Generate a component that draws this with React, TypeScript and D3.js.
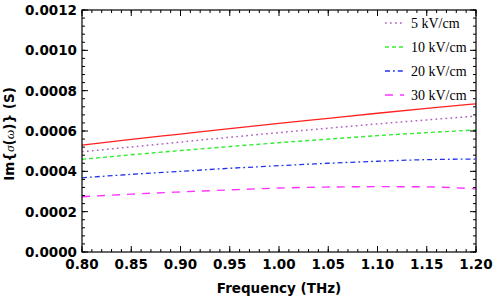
import * as d3 from 'd3';

// Frequency (THz)
const freq = [0.8, 0.85, 0.9, 0.95, 1.0, 1.05, 1.1, 1.15, 1.2];
// Im{sigma} (S) for each curve
const base = [0.00053, 0.000558, 0.000585, 0.000612, 0.000638, 0.000663, 0.000688, 0.000712, 0.000735];
const kv5 = [0.000497, 0.000521, 0.000545, 0.000569, 0.000592, 0.000614, 0.000635, 0.000655, 0.000674];
const kv10 = [0.00046, 0.000482, 0.000503, 0.000523, 0.000542, 0.00056, 0.000577, 0.000592, 0.000605];
const kv20 = [0.000368, 0.000385, 0.0004, 0.000415, 0.000428, 0.00044, 0.00045, 0.000458, 0.000461];
const kv30 = [0.000274, 0.000287, 0.000298, 0.000308, 0.000317, 0.000322, 0.000324, 0.000323, 0.000313];

const xTicks = [0.8, 0.85, 0.9, 0.95, 1.0, 1.05, 1.1, 1.15, 1.2];
const yTicks = [0, 0.0002, 0.0004, 0.0006, 0.0008, 0.001, 0.0012];

const series = [
  { name: '', values: base, color: '#ff2020', dash: '', width: 1.3 },
  { name: '5 kV/cm', values: kv5, color: '#b060c0', dash: '1.7 3.3', width: 1.5 },
  { name: '10 kV/cm', values: kv10, color: '#33ee33', dash: '4 3', width: 1.4 },
  { name: '20 kV/cm', values: kv20, color: '#2233ee', dash: '5 3 1.8 3', width: 1.3 },
  { name: '30 kV/cm', values: kv30, color: '#ff33ff', dash: '8 7', width: 1.4 },
];

export default function App() {
  const width = 495;
  const height = 299;
  const left = 82;
  const right = 476;
  const top = 10;
  const bottom = 252;

  const x = d3.scaleLinear().domain([0.8, 1.2]).range([left, right]);
  const y = d3.scaleLinear().domain([0, 0.0012]).range([bottom, top]);

  const xMinor = d3.range(0, 41).map((i) => 0.8 + i * 0.01);
  const yMinor = d3.range(0, 31).map((i) => i * 0.00004);

  const line = d3
    .line<number>()
    .x((_, i) => x(freq[i]))
    .y((d) => y(d))
    .curve(d3.curveMonotoneX);

  const tickFont = "'DejaVu Sans', sans-serif";

  return (
    <div style={{ position: 'absolute', left: 0, top: 0 }}>
      <svg width={width} height={height} style={{ display: 'block', background: '#fff' }}>
        {/* curves */}
        {series.map((s, i) => (
          <path
            key={i}
            d={line(s.values) || ''}
            fill="none"
            stroke={s.color}
            strokeWidth={s.width}
            strokeDasharray={s.dash || undefined}
          />
        ))}

        {/* frame */}
        <rect x={left} y={top} width={right - left} height={bottom - top} fill="none" stroke="#000" strokeWidth={1.2} />

        {/* minor ticks */}
        {xMinor.map((v, i) => (
          <g key={'xm' + i}>
            <line x1={x(v)} x2={x(v)} y1={bottom} y2={bottom - 3} stroke="#000" />
            <line x1={x(v)} x2={x(v)} y1={top} y2={top + 3} stroke="#000" />
          </g>
        ))}
        {yMinor.map((v, i) => (
          <g key={'ym' + i}>
            <line x1={left} x2={left + 3} y1={y(v)} y2={y(v)} stroke="#000" />
            <line x1={right} x2={right - 3} y1={y(v)} y2={y(v)} stroke="#000" />
          </g>
        ))}

        {/* major ticks + labels */}
        {xTicks.map((v, i) => (
          <g key={'x' + i}>
            <line x1={x(v)} x2={x(v)} y1={bottom} y2={bottom - 6} stroke="#000" />
            <line x1={x(v)} x2={x(v)} y1={top} y2={top + 6} stroke="#000" />
            <text x={x(v)} y={269} textAnchor="middle" fontFamily={tickFont} fontWeight="bold" fontSize={13.5}>
              {v.toFixed(2)}
            </text>
          </g>
        ))}
        {yTicks.map((v, i) => (
          <g key={'y' + i}>
            <line x1={left} x2={left + 6} y1={y(v)} y2={y(v)} stroke="#000" />
            <line x1={right} x2={right - 6} y1={y(v)} y2={y(v)} stroke="#000" />
            <text
              x={77}
              y={y(v)}
              dy="0.36em"
              textAnchor="end"
              fontFamily={tickFont}
              fontWeight="bold"
              fontSize={13.5}
            >
              {v.toFixed(4)}
            </text>
          </g>
        ))}

        {/* axis titles */}
        <text x={279} y={293} textAnchor="middle" fontFamily={tickFont} fontWeight="bold" fontSize={13.5}>
          Frequency (THz)
        </text>
        <text
          transform="translate(14,134) rotate(-90)"
          textAnchor="middle"
          fontFamily={tickFont}
          fontWeight="bold"
          fontSize={13.5}
        >
          Im{'{'}
          <tspan fontFamily="'Liberation Serif', serif" fontStyle="italic" fontWeight="normal">σ</tspan>(
          <tspan fontFamily="'Liberation Serif', serif" fontStyle="italic" fontWeight="normal">ω</tspan>){'}'} (S)
        </text>

        {/* legend */}
        {series.slice(1).map((s, i) => {
          const ly = 23 + i * 24;
          return (
            <g key={'lg' + i}>
              <line
                x1={385}
                x2={404}
                y1={ly}
                y2={ly}
                stroke={s.color}
                strokeWidth={s.width}
                strokeDasharray={s.dash}
              />
              <text x={411} y={ly} dy="0.35em" fontFamily="'Liberation Serif', serif" fontSize={14}>
                {s.name}
              </text>
            </g>
          );
        })}
      </svg>
    </div>
  );
}
